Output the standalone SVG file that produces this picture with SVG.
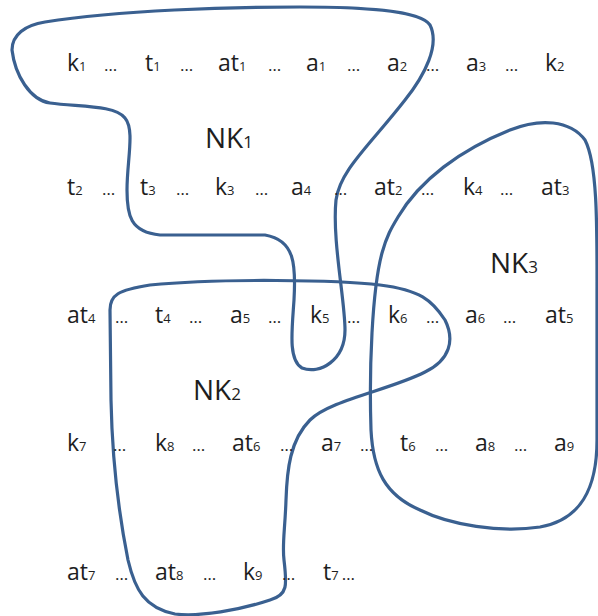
<svg xmlns="http://www.w3.org/2000/svg" width="598" height="616" viewBox="0 0 598 616">
<style>
.c{fill:none;stroke:#3a6090;stroke-width:3.2;stroke-linejoin:round}
text{font-family:"Open Sans","Noto Sans",sans-serif;fill:#1e1e1e}
.t{font-size:23px}
.s{font-size:13px}
.d{font-size:17px}
.n{font-size:28px}
.ns{font-size:17px}
</style>
<rect width="598" height="616" fill="#ffffff"/>
<g id="NK1">
<path class="c" d="M 300,7 C 360,7 420,10 430,25 C 440,45 425,75 405,100 C 370,145 340,170 336,200 C 332,240 345,300 345,330 C 345,360 320,375 302,368 C 288,360 292,330 294,300 C 296,265 295,240 265,235 L 160,235 C 130,232 127,215 127,190 C 127,160 135,130 125,118 C 115,105 80,107 50,103 C 30,100 15,75 12,50 C 12,35 25,25 45,22 C 120,10 230,7 300,7 Z"/>
<text class="n" x="205" y="148">NK<tspan class="ns">1</tspan></text>
</g>
<g id="NK2">
<path class="c" d="M 110,310 C 110,295 118,290 150,285 C 220,278 340,280 380,285 C 420,290 432,300 445,320 C 455,340 450,360 425,372 C 390,390 330,400 310,420 C 290,440 287,470 286,500 C 285,530 282,545 284,560 C 287,585 288,595 270,600 C 240,610 200,617 175,614 C 145,608 135,590 128,560 C 118,510 112,450 111,400 L 110,310 Z"/>
<text class="n" x="193" y="400">NK<tspan class="ns">2</tspan></text>
</g>
<g id="NK3">
<path class="c" d="M 398,217 C 420,180 460,150 510,130 C 540,118 570,120 585,140 C 598,165 597,230 597,300 L 597,440 C 597,490 580,520 540,527 C 500,533 450,525 420,510 C 385,495 373,470 371,430 C 369,370 372,290 382,253 C 387,235 392,227 398,217 Z"/>
<text class="n" x="490" y="273">NK<tspan class="ns">3</tspan></text>
</g>
<g id="terms">
<text class="t" x="67" y="71">k<tspan class="s">1</tspan></text>
<text class="d" x="104" y="71">…</text>
<text class="t" x="145" y="71">t<tspan class="s">1</tspan></text>
<text class="d" x="180" y="71">…</text>
<text class="t" x="218" y="71">at<tspan class="s">1</tspan></text>
<text class="d" x="268" y="71">…</text>
<text class="t" x="306" y="71">a<tspan class="s">1</tspan></text>
<text class="d" x="347" y="71">…</text>
<text class="t" x="387" y="71">a<tspan class="s">2</tspan></text>
<text class="d" x="426" y="71">…</text>
<text class="t" x="466" y="71">a<tspan class="s">3</tspan></text>
<text class="d" x="505" y="71">…</text>
<text class="t" x="545" y="71">k<tspan class="s">2</tspan></text>

<text class="t" x="67" y="195">t<tspan class="s">2</tspan></text>
<text class="d" x="102" y="195">…</text>
<text class="t" x="140" y="195">t<tspan class="s">3</tspan></text>
<text class="d" x="176" y="195">…</text>
<text class="t" x="215" y="195">k<tspan class="s">3</tspan></text>
<text class="d" x="255" y="195">…</text>
<text class="t" x="291" y="195">a<tspan class="s">4</tspan></text>
<text class="d" x="334" y="195">…</text>
<text class="t" x="374" y="195">at<tspan class="s">2</tspan></text>
<text class="d" x="421" y="195">…</text>
<text class="t" x="463" y="195">k<tspan class="s">4</tspan></text>
<text class="d" x="500" y="195">…</text>
<text class="t" x="541" y="195">at<tspan class="s">3</tspan></text>

<text class="t" x="67" y="323">at<tspan class="s">4</tspan></text>
<text class="d" x="115" y="323">…</text>
<text class="t" x="155" y="323">t<tspan class="s">4</tspan></text>
<text class="d" x="189" y="323">…</text>
<text class="t" x="230" y="323">a<tspan class="s">5</tspan></text>
<text class="d" x="268" y="323">…</text>
<text class="t" x="310" y="323">k<tspan class="s">5</tspan></text>
<text class="d" x="347" y="323">…</text>
<text class="t" x="388" y="323">k<tspan class="s">6</tspan></text>
<text class="d" x="426" y="323">…</text>
<text class="t" x="465" y="323">a<tspan class="s">6</tspan></text>
<text class="d" x="503" y="323">…</text>
<text class="t" x="545" y="323">at<tspan class="s">5</tspan></text>

<text class="t" x="67" y="451">k<tspan class="s">7</tspan></text>
<text class="d" x="113" y="451">…</text>
<text class="t" x="155" y="451">k<tspan class="s">8</tspan></text>
<text class="d" x="192" y="451">…</text>
<text class="t" x="232" y="451">at<tspan class="s">6</tspan></text>
<text class="d" x="280" y="451">…</text>
<text class="t" x="321" y="451">a<tspan class="s">7</tspan></text>
<text class="d" x="360" y="451">…</text>
<text class="t" x="400" y="451">t<tspan class="s">6</tspan></text>
<text class="d" x="435" y="451">…</text>
<text class="t" x="475" y="451">a<tspan class="s">8</tspan></text>
<text class="d" x="514" y="451">…</text>
<text class="t" x="554" y="451">a<tspan class="s">9</tspan></text>

<text class="t" x="67" y="580">at<tspan class="s">7</tspan></text>
<text class="d" x="115" y="580">…</text>
<text class="t" x="155" y="580">at<tspan class="s">8</tspan></text>
<text class="d" x="203" y="580">…</text>
<text class="t" x="243" y="580">k<tspan class="s">9</tspan></text>
<text class="d" x="282" y="580">…</text>
<text class="t" x="323" y="580">t<tspan class="s">7</tspan><tspan class="d" dx="3">…</tspan></text>
</g>
</svg>
